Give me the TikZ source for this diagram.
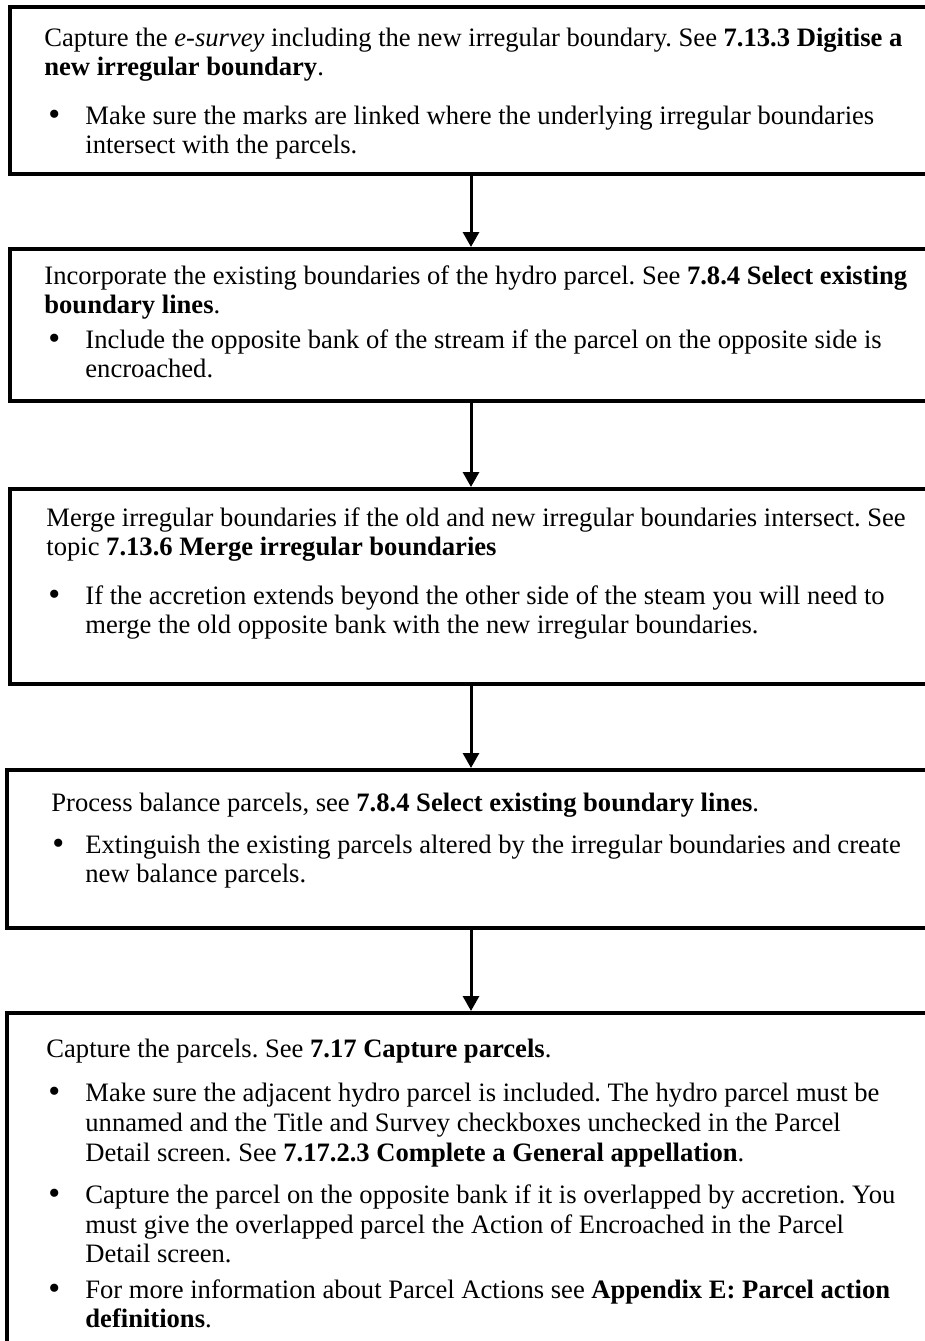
\documentclass[tikz,border=0pt]{standalone}
\usepackage{fontspec}
\setmainfont{Liberation Serif}
\usetikzlibrary{arrows.meta}
\frenchspacing
\tikzset{
  stepbox/.style={draw=black, line width=2pt, rectangle, inner sep=0pt, anchor=north west},
  txt/.style={anchor=base west, inner sep=0pt, font=\fontsize{13.3}{15}\selectfont},
  bul/.style={anchor=base west, inner sep=0pt, font=\fontsize{17}{15}\selectfont},
  arr/.style={line width=1.5pt, -{Triangle[length=7.5pt,width=8pt]}}
}
\begin{document}
\begin{tikzpicture}[x=0.5pt,y=-0.5pt]
\useasboundingbox (0,0) rectangle (925,1341);
\clip (0,0) rectangle (925,1341);
% boxes
\node[stepbox, minimum width=496pt, minimum height=83.5pt] (b1) at (8,5) {};
\node[stepbox, minimum width=496pt, minimum height=76pt] (b2) at (8,247) {};
\node[stepbox, minimum width=496pt, minimum height=97.5pt] (b3) at (8,487) {};
\node[stepbox, minimum width=498pt, minimum height=79pt] (b4) at (5,768) {};
\node[stepbox, minimum width=498pt, minimum height=200pt] (b5) at (5,1011) {};
% arrows
\coordinate (ax) at (471,0);
\draw[arr] (b1.south -| ax) -- (b2.north -| ax);
\draw[arr] (b2.south -| ax) -- (b3.north -| ax);
\draw[arr] (b3.south -| ax) -- (b4.north -| ax);
\draw[arr] (b4.south -| ax) -- (b5.north -| ax);
% box 1
\node[txt] (t1a) at (44,46) {Capture the \textit{e-survey} including the new irregular boundary. See \textbf{7.13.3 Digitise a}};
\node[txt] (t1b) at (44,75) {\textbf{new irregular boundary}.};
\node[bul] (u1) at (48,125) {•};
\node[txt] (t1c) at (85,124) {Make sure the marks are linked where the underlying irregular boundaries};
\node[txt] (t1d) at (85,153) {intersect with the parcels.};
% box 2
\node[txt] (t2a) at (44,284) {Incorporate the existing boundaries of the hydro parcel. See \textbf{7.8.4 Select existing}};
\node[txt] (t2b) at (44,313) {\textbf{boundary lines}.};
\node[bul] (u2) at (48,349) {•};
\node[txt] (t2c) at (85,348) {Include the opposite bank of the stream if the parcel on the opposite side is};
\node[txt] (t2d) at (85,377) {encroached.};
% box 3
\node[txt] (t3a) at (46,526) {Merge irregular boundaries if the old and new irregular boundaries intersect. See};
\node[txt] (t3b) at (46,555) {topic \textbf{7.13.6 Merge irregular boundaries}};
\node[bul] (u3) at (48,605) {•};
\node[txt] (t3c) at (85,604) {If the accretion extends beyond the other side of the steam you will need to};
\node[txt] (t3d) at (85,633) {merge the old opposite bank with the new irregular boundaries.};
% box 4
\node[txt] (t4a) at (51,811) {Process balance parcels, see \textbf{7.8.4 Select existing boundary lines}.};
\node[bul] (u4) at (52,854) {•};
\node[txt] (t4b) at (85,853) {Extinguish the existing parcels altered by the irregular boundaries and create};
\node[txt] (t4c) at (85,882) {new balance parcels.};
% box 5
\node[txt] (t5a) at (46,1057) {Capture the parcels. See \textbf{7.17 Capture parcels}.};
\node[bul] (u5a) at (48,1102) {•};
\node[txt] (t5b) at (85,1101) {Make sure the adjacent hydro parcel is included. The hydro parcel must be};
\node[txt] (t5c) at (85,1131) {unnamed and the Title and Survey checkboxes unchecked in the Parcel};
\node[txt] (t5d) at (85,1161) {Detail screen. See \textbf{7.17.2.3 Complete a General appellation}.};
\node[bul] (u5b) at (48,1204) {•};
\node[txt] (t5e) at (85,1203) {Capture the parcel on the opposite bank if it is overlapped by accretion. You};
\node[txt] (t5f) at (85,1233) {must give the overlapped parcel the Action of Encroached in the Parcel};
\node[txt] (t5g) at (85,1262) {Detail screen.};
\node[bul] (u5c) at (48,1299) {•};
\node[txt] (t5h) at (85,1298) {For more information about Parcel Actions see \textbf{Appendix E: Parcel action}};
\node[txt] (t5i) at (85,1327) {\textbf{definitions}.};
\end{tikzpicture}
\end{document}
